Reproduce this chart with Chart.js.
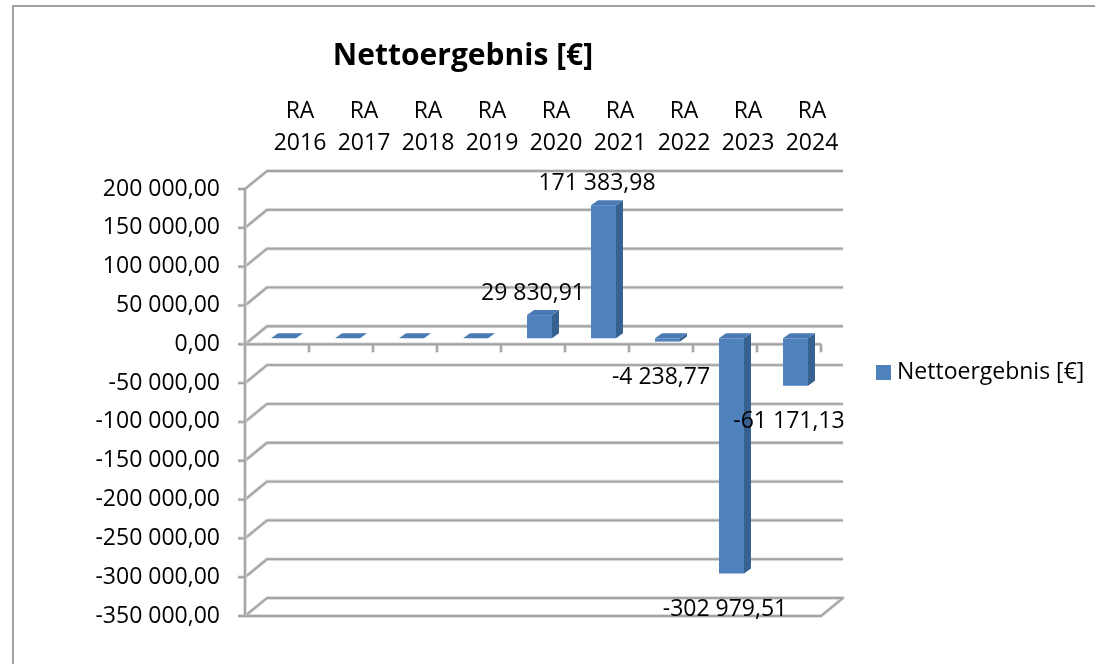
<!DOCTYPE html>
<html>
<head>
<meta charset="utf-8">
<script src="https://cdn.jsdelivr.net/npm/chart.js@4/dist/chart.umd.min.js"></script>
<style>
  html, body { margin: 0; padding: 0; background: #fff; }
  canvas { display: block; }
</style>
</head>
<body>
<canvas id="chart" width="1095" height="664"></canvas>
<script>
'use strict';

const categories = [
  ['RA', '2016'], ['RA', '2017'], ['RA', '2018'], ['RA', '2019'], ['RA', '2020'],
  ['RA', '2021'], ['RA', '2022'], ['RA', '2023'], ['RA', '2024']
];
const seriesName = 'Nettoergebnis [€]';
const netResult = [0, 0, 0, 0, 29830.91, 171383.98, -4238.77, -302979.51, -61171.13];
const yMin = -350000;
const yMax = 200000;
const yStep = 50000;

const FONT = '"Open Sans", "DejaVu Sans", sans-serif';
const BAR_FRONT = '#4f81bd';
const BAR_SIDE = '#37618f';
const BAR_TOP = '#4a79b3';
const GRID = '#a3a3a3';

// fake Excel 3D: walls recede up/right, bars sit a bit behind the front plane
const WALL_DX = 22;
const WALL_DY = -18;
const BAR_SHIFT_X = 6.5;
const BAR_SHIFT_Y = -6;
const BAR_DX = 7;
const BAR_DY = -5;

function formatNumber(v) {
  const parts = Math.abs(v).toFixed(2).split('.');
  const grouped = parts[0].replace(/\B(?=(\d{3})+(?!\d))/g, ' ');
  return (v < 0 ? '-' : '') + grouped + ',' + parts[1];
}

function strokeGrid(ctx, drawPath) {
  ctx.save();
  ctx.lineJoin = 'round';
  ctx.strokeStyle = '#d6d6d6';
  ctx.lineWidth = 3.5;
  ctx.beginPath(); drawPath(); ctx.stroke();
  ctx.strokeStyle = GRID;
  ctx.lineWidth = 1.8;
  ctx.beginPath(); drawPath(); ctx.stroke();
  ctx.restore();
}

const excel3d = {
  id: 'excel3d',
  beforeDraw(chart) {
    const ctx = chart.ctx;
    ctx.save();
    ctx.fillStyle = '#fff';
    ctx.fillRect(0, 0, chart.width, chart.height);
    // outer chart frame (only left and top are inside the picture)
    ctx.strokeStyle = '#a0a0a0';
    ctx.lineWidth = 2;
    ctx.beginPath();
    ctx.moveTo(13, chart.height);
    ctx.lineTo(13, 6);
    ctx.lineTo(chart.width, 6);
    ctx.stroke();
    ctx.restore();
  },
  beforeDatasetsDraw(chart) {
    const ctx = chart.ctx;
    const { left, right } = chart.chartArea;
    const y = chart.scales.y;
    const x = chart.scales.x;

    // back wall gridlines + left wall diagonals
    for (let v = yMin; v <= yMax; v += yStep) {
      const py = y.getPixelForValue(v);
      strokeGrid(ctx, () => {
        ctx.moveTo(left, py);
        ctx.lineTo(left + WALL_DX, py + WALL_DY);
        ctx.lineTo(right + WALL_DX, py + WALL_DY);
        if (v === yMin) {
          // floor front edge
          ctx.lineTo(right, py);
          ctx.lineTo(left, py);
        }
      });
    }

    // value axis with outside ticks
    const top = y.getPixelForValue(yMax);
    const bottom = y.getPixelForValue(yMin);
    strokeGrid(ctx, () => {
      ctx.moveTo(left, top);
      ctx.lineTo(left, bottom);
      for (let v = yMin; v <= yMax; v += yStep) {
        const py = y.getPixelForValue(v);
        ctx.moveTo(left - 7, py);
        ctx.lineTo(left, py);
      }
    });

    // category axis along zero
    const y0 = y.getPixelForValue(0);
    const half = (x.getPixelForValue(1) - x.getPixelForValue(0)) / 2;
    strokeGrid(ctx, () => {
      ctx.moveTo(left, y0);
      ctx.lineTo(right, y0);
      for (let i = 0; i <= categories.length; i++) {
        const px = x.getPixelForValue(0) - half + i * half * 2;
        ctx.moveTo(px, y0 - (i === 0 ? 3 : 0));
        ctx.lineTo(px, y0 + 8);
      }
    });
  },
  afterDatasetsDraw(chart) {
    const ctx = chart.ctx;
    const meta = chart.getDatasetMeta(0);
    ctx.save();
    meta.data.forEach(bar => {
      const l = bar.x - bar.width / 2 + BAR_SHIFT_X;
      const r = bar.x + bar.width / 2 + BAR_SHIFT_X;
      const t = Math.min(bar.y, bar.base) + BAR_SHIFT_Y;
      const b = Math.max(bar.y, bar.base) + BAR_SHIFT_Y;
      // side
      ctx.fillStyle = BAR_SIDE;
      ctx.beginPath();
      ctx.moveTo(r, t);
      ctx.lineTo(r + BAR_DX, t + BAR_DY);
      ctx.lineTo(r + BAR_DX, b + BAR_DY);
      ctx.lineTo(r, b);
      ctx.closePath();
      ctx.fill();
      // top
      ctx.fillStyle = BAR_TOP;
      ctx.beginPath();
      ctx.moveTo(l, t);
      ctx.lineTo(l + BAR_DX, t + BAR_DY);
      ctx.lineTo(r + BAR_DX, t + BAR_DY);
      ctx.lineTo(r, t);
      ctx.closePath();
      ctx.fill();
      // front
      ctx.fillStyle = BAR_FRONT;
      ctx.fillRect(l, t, r - l, b - t);
    });

    // data labels
    ctx.fillStyle = '#000';
    ctx.font = '23px ' + FONT;
    ctx.textAlign = 'center';
    ctx.textBaseline = 'middle';
    meta.data.forEach((bar, i) => {
      const v = netResult[i];
      if (v === 0) return;
      const ly = v > 0 ? bar.y - 28 : bar.y + 30;
      ctx.fillText(formatNumber(v), bar.x, ly);
    });

    // legend
    const area = chart.chartArea;
    const lx = area.right + 55;
    const ly = area.top + 183;
    ctx.fillStyle = BAR_FRONT;
    ctx.fillRect(lx, ly - 7, 15, 15);
    ctx.fillStyle = '#000';
    ctx.textAlign = 'left';
    ctx.fillText(seriesName, lx + 21, ly);

    // title
    ctx.font = 'bold 30px ' + FONT;
    ctx.textAlign = 'center';
    ctx.fillText(seriesName, (area.left + area.right) / 2 - 70, 56);
    ctx.restore();
  }
};

new Chart(document.getElementById('chart'), {
  type: 'bar',
  data: {
    labels: categories,
    datasets: [{
      label: seriesName,
      data: netResult,
      backgroundColor: 'rgba(0,0,0,0)',
      categoryPercentage: 1,
      barPercentage: 0.39
    }]
  },
  options: {
    responsive: false,
    animation: false,
    events: [],
    layout: { padding: { left: 0, right: 274, top: 0, bottom: 48 } },
    plugins: {
      legend: { display: false },
      title: { display: false },
      tooltip: { enabled: false }
    },
    scales: {
      x: {
        position: 'top',
        grid: { display: false, drawTicks: false },
        border: { display: false },
        ticks: {
          color: '#000',
          font: { family: FONT, size: 23, lineHeight: 1.39 },
          padding: 30,
          labelOffset: 23,
          maxRotation: 0,
          autoSkip: false
        },
        afterFit(scale) { scale.height = 189; }
      },
      y: {
        min: yMin,
        max: yMax,
        grid: { display: false, drawTicks: false },
        border: { display: false },
        ticks: {
          stepSize: yStep,
          color: '#000',
          font: { family: FONT, size: 23 },
          padding: 25,
          callback: v => formatNumber(v)
        },
        afterFit(scale) { scale.width = 245; }
      }
    }
  },
  plugins: [excel3d]
});
</script>
</body>
</html>
